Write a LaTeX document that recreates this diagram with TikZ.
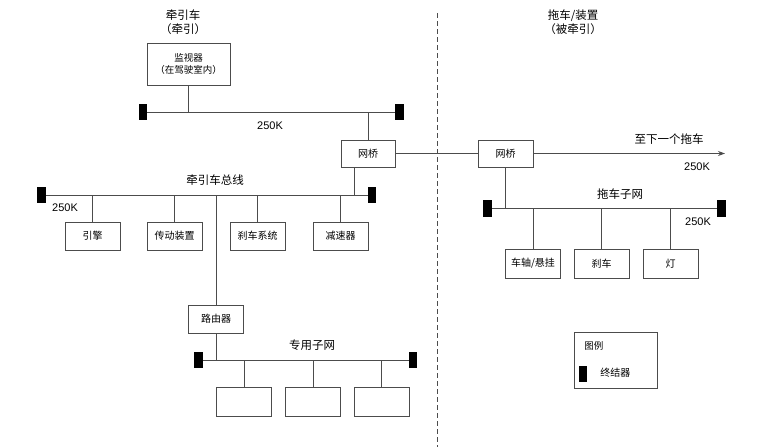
\documentclass[tikz,border=0pt]{standalone}
\usepackage{fontspec}
\setmainfont{Liberation Sans}
\newfontfamily\cjk{Noto Sans CJK SC}
\usetikzlibrary{arrows.meta}
\begin{document}
\begin{tikzpicture}[x=1pt,y=-1pt,
  ln/.style={draw=black!70,line width=0.8pt},
  box/.style={ln,fill=white,inner sep=0pt,font=\cjk\fontsize{10}{12}\selectfont,align=center},
  bw/.style={box,minimum width=55pt,minimum height=28pt},
  term/.style={fill=black,inner sep=0pt,minimum width=8.5pt,minimum height=16.5pt},
  lab/.style={font=\cjk\fontsize{11.5}{14}\selectfont,align=center,inner sep=0pt},
  kl/.style={font=\fontsize{11}{13}\selectfont,inner sep=0pt}]
\useasboundingbox (0,0) rectangle (772,447);
% dashed divider
\coordinate (dT) at (437,13);
\coordinate (dB) at (437,447);
\draw[ln,dash pattern=on 5pt off 3pt] (dT) -- (dB);
% titles
\node[lab] (t1) at (183,22) {牵引车\\（牵引）};
\node[lab] (t2) at (573,22) {拖车/装置\\（被牵引）};
% monitor and top bus
\node[box,minimum width=83pt,minimum height=42pt,font=\cjk\fontsize{9.5}{12.5}\selectfont] (mon) at (188.5,64) {监视器\\（在驾驶室内）};
\node[term] (tl1) at (143,112) {};
\node[term] (tr1) at (399.5,112) {};
\draw[ln] (tl1.east) -- (tr1.west);
\draw[ln] (mon.south) -- (mon.south |- tl1);
\node[kl] (k1) at (270,126) {250K};
% bridge 1
\node[box,minimum width=54pt,minimum height=27pt] (br1) at (368,153.5) {网桥};
\draw[ln] (br1.north) -- (br1.north |- tr1);
% main bus
\node[term] (tl2) at (41.5,195) {};
\node[term] (tr2) at (372,195) {};
\draw[ln] (tl2.east) -- (tr2.west);
\node[lab] (busl) at (215,180) {牵引车总线};
\node[kl] (k2) at (65,208) {250K};
\draw[ln] ([xshift=-14pt]br1.south) -- ([xshift=-14pt]br1.south |- tr2);
\node[bw] (b1) at (92.5,236) {引擎};
\node[bw] (b2) at (174.5,236) {传动装置};
\node[bw] (b3) at (257.5,236) {刹车系统};
\node[bw] (b4) at (340.5,236) {减速器};
\foreach \n in {b1,b2,b3,b4} \draw[ln] (\n.north) -- (\n.north |- tl2);
% router and private subnet
\node[bw] (rt) at (216,319) {路由器};
\draw[ln] (rt.north) -- (rt.north |- tl2);
\node[term] (tl3) at (198.5,360) {};
\node[term] (tr3) at (413,360) {};
\draw[ln] (tl3.east) -- (tr3.west);
\draw[ln] (rt.south) -- (rt.south |- tl3);
\node[lab] (pl) at (312,345) {专用子网};
\node[bw,minimum height=29pt] (p1) at (244,401.5) {};
\node[bw,minimum height=29pt] (p2) at (313,401.5) {};
\node[bw,minimum height=29pt] (p3) at (381.5,401.5) {};
\foreach \n in {p1,p2,p3} \draw[ln] (\n.north) -- (\n.north |- tl3);
% bridge 2
\node[box,minimum width=55pt,minimum height=27pt] (br2) at (505.5,153.5) {网桥};
\draw[ln] (br1.east) -- (br2.west);
\coordinate (nx) at (725,153.5);
\draw[ln,-{Stealth[length=7pt,width=5pt]}] (br2.east) -- (nx);
\node[lab] (nl) at (669,139) {至下一个拖车};
\node[kl] (k3) at (697,167) {250K};
% trailer subnet
\node[term] (tl4) at (487.5,208.5) {};
\node[term] (tr4) at (721.5,208.5) {};
\draw[ln] (tl4.east) -- (tr4.west);
\draw[ln] (br2.south) -- (br2.south |- tl4);
\node[lab] (tsl) at (620,194) {拖车子网};
\node[kl] (k4) at (698,222) {250K};
\node[bw,minimum height=29pt] (c1) at (533,263.5) {车轴/悬挂};
\node[bw,minimum height=29pt] (c2) at (601.5,263.5) {刹车};
\node[bw,minimum height=29pt] (c3) at (670.5,263.5) {灯};
\foreach \n in {c1,c2,c3} \draw[ln] (\n.north) -- (\n.north |- tl4);
% legend
\node[box,minimum width=83pt,minimum height=56pt] (lg) at (615.5,360) {};
\node[box,draw=none,fill=none,anchor=west,font=\cjk\fontsize{9.5}{12}\selectfont] (lgt) at (584,346) {图例};
\node[term] (lgterm) at (583,374) {};
\node[box,draw=none,fill=none,anchor=west] (lgl) at (600,373) {终结器};
\end{tikzpicture}
\end{document}
